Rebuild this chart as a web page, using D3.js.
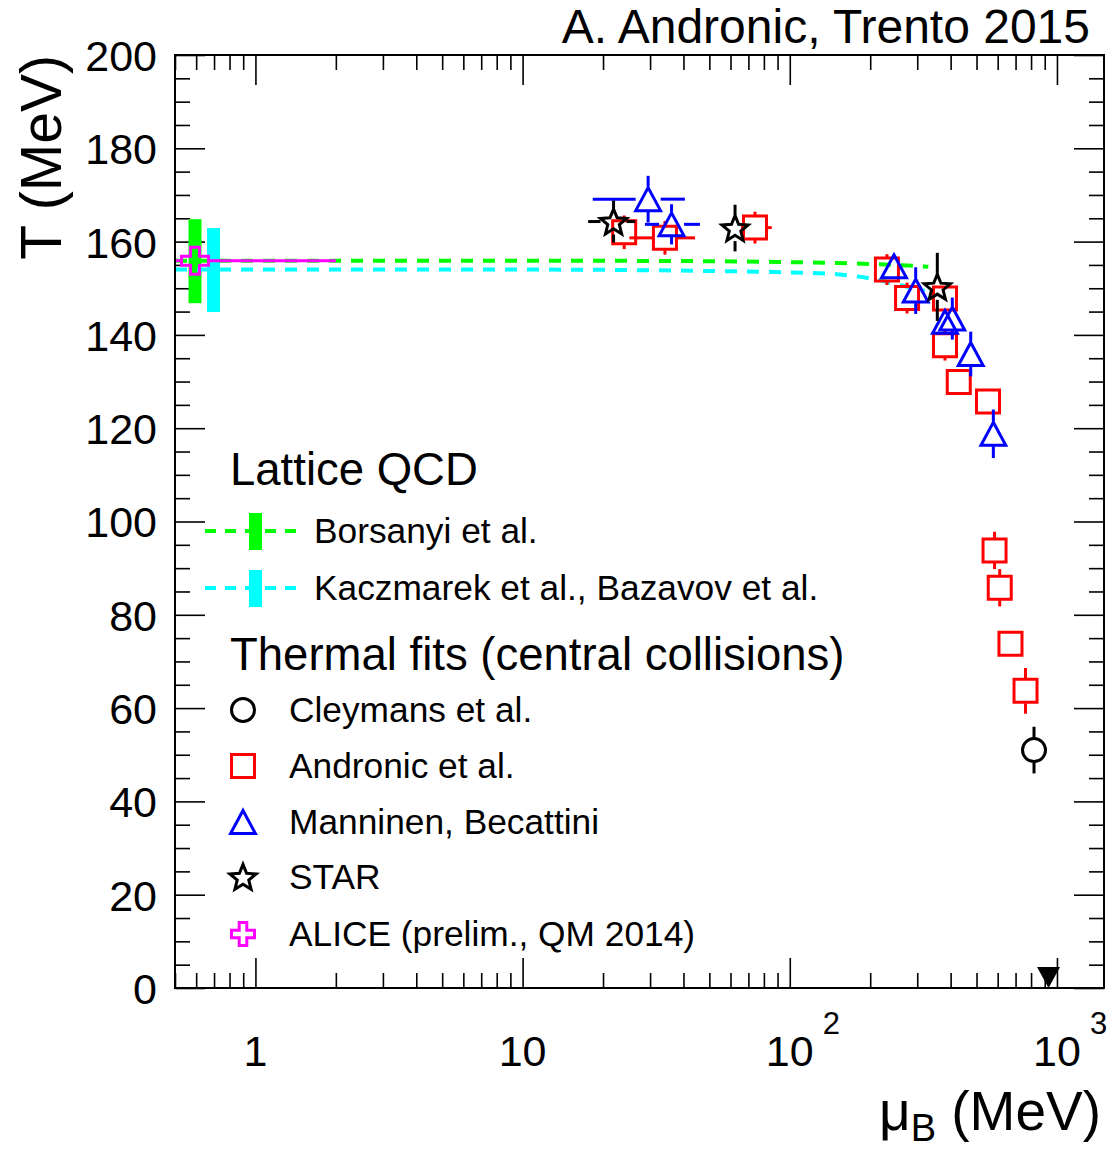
<!DOCTYPE html>
<html><head><meta charset="utf-8">
<script src="https://cdn.jsdelivr.net/npm/d3@7"></script>
<style>
body{margin:0;background:#fff}
svg{display:block}
text{font-family:"Liberation Sans",Arial,Helvetica,sans-serif;fill:#000}
</style>
</head><body>
<svg id="c" width="1111" height="1151"></svg>
<script>
// ---------------- data ----------------
const xDomain = [0.5, 1500];
const yDomain = [0, 200];
const xMajorTicks = [1, 10, 100, 1000];
const xTickBase = ["1", "10", "10", "10"];
const xTickExp = ["", "", "2", "3"];
const yMajorTicks = [0, 20, 40, 60, 80, 100, 120, 140, 160, 180, 200];
const yTickLabels = ["0", "20", "40", "60", "80", "100", "120", "140", "160", "180", "200"];

// Lattice QCD curves
const borsanyiMu = [0.5, 10, 50, 100, 150, 200, 250, 330];
const borsanyiT  = [155.9, 155.9, 155.8, 155.6, 155.4, 155.2, 155.0, 154.6];
const kaczmarekMu = [0.5, 10, 50, 100, 150, 200, 250, 320];
const kaczmarekT  = [154.0, 154.0, 153.7, 153.4, 153.0, 152.1, 150.9, 149.4];
// Lattice Tc bands (at small muB)
const bandMu = [0.594, 0.697];
const bandT = [155.8, 153.9];
const bandErr = [9, 9];

// Thermal fits
const cleymansMu = [820.6];
const cleymansT = [51.0];
const cleymansErr = [5];

const andronicMu = [24.0, 34.1, 74.1, 231, 274.8, 381, 381, 429, 552, 584, 610.7, 670, 762.7];
const andronicT  = [162.0, 160.8, 163.0, 154.0, 147.9, 147.8, 137.8, 129.9, 125.7, 93.8, 85.8, 73.8, 63.7];
const andronicErr = [3.6, 3.6, 3.4, 3.3, 3.3, 2.5, 3.3, 2, 2, 4, 4, 2.5, 4.9];
const andronicMuLo = [null, 25.1, 65.7, null, null, null, null, null, null, null, null, null, null];
const andronicMuHi = [null, 44.2, 85.6, null, null, null, null, null, null, null, null, null, null];

const manninenMu = [29.5, 36.1, 245.5, 296, 381, 405.8, 475.6, 578];
const manninenT  = [169.1, 163.7, 154.7, 149.5, 142.8, 143.5, 135.9, 118.8];
const manninenErr = [5, 4.3, 2.5, 5, 2.5, 4.5, 4.8, 5.2];
const manninenMuLo = [18.3, 28.7, null, null, null, null, null, null];
const manninenMuHi = [40.5, 46.1, null, null, null, null, null, null];

const starMu = [21.9, 62.4, 356.6];
const starT  = [164.3, 162.9, 150.3];
const starErr = [4.5, 5, 7.3];
const starMuLo = [17.6, null, null];
const starMuHi = [26.4, null, null];

const aliceMu = [0.594];
const aliceT = [155.9];
const aliceErr = [1.5];
const aliceMuLo = [0.4];
const aliceMuHi = [2.0];

const nuclearMatterMu = [930];

// ---------------- layout ----------------
const L = 175, R = 1104, T = 55, B = 988;
const svg = d3.select("#c");
const x = d3.scaleLog().domain(xDomain).range([L, R]);
const y = d3.scaleLinear().domain(yDomain).range([B, T]);

const xMinor = [];
for (let d = 0.1; d <= 1000; d *= 10) for (let k = 2; k <= 9; k++) {
  const v = +(k * d).toPrecision(3);
  if (v >= xDomain[0] && v <= xDomain[1]) xMinor.push(v);
}
const yMinor = d3.range(0, 201, 5).filter(v => v % 20 !== 0);

const MAJ = 30, MIN = 15;
function tickAxis(axisGen, tr, vals, size) {
  const g = svg.append("g").attr("transform", tr)
    .call(axisGen.tickValues(vals).tickSize(size).tickFormat(""));
  g.select(".domain").remove();
  g.selectAll("line").attr("stroke", "#000").attr("stroke-width", 1.6);
  return g;
}
// bottom & top
tickAxis(d3.axisTop(x), `translate(0,${B})`, xMajorTicks, MAJ);
tickAxis(d3.axisTop(x), `translate(0,${B})`, xMinor, MIN);
tickAxis(d3.axisBottom(x), `translate(0,${T})`, xMajorTicks, MAJ);
tickAxis(d3.axisBottom(x), `translate(0,${T})`, xMinor, MIN);
// left & right
tickAxis(d3.axisRight(y), `translate(${L},0)`, yMajorTicks, MAJ);
tickAxis(d3.axisRight(y), `translate(${L},0)`, yMinor, MIN);
tickAxis(d3.axisLeft(y), `translate(${R},0)`, yMajorTicks, MAJ);
tickAxis(d3.axisLeft(y), `translate(${R},0)`, yMinor, MIN);

// y labels
const yl = svg.append("g").attr("transform", `translate(${L},0)`)
  .call(d3.axisLeft(y).tickValues(yMajorTicks).tickSize(0).tickPadding(18)
    .tickFormat((d, i) => yTickLabels[i]));
yl.select(".domain").remove();
yl.selectAll("text").attr("font-size", 43).attr("font-family", "Liberation Sans, Arial, sans-serif")
  .attr("dy", "0.36em");

// x labels
const xl = svg.append("g");
xMajorTicks.forEach((v, i) => {
  xl.append("text").attr("x", x(v)).attr("y", 1066)
    .attr("text-anchor", "middle").attr("font-size", 43).text(xTickBase[i]);
  if (xTickExp[i]) {
    xl.append("text").attr("x", x(v) + 33).attr("y", 1034)
      .attr("font-size", 31).text(xTickExp[i]);
  }
});

// axis titles
svg.append("text").attr("transform", `translate(61,55) rotate(-90)`)
  .attr("text-anchor", "end").attr("font-size", 57).text("T (MeV)");
const xt = svg.append("text").attr("x", 1101).attr("y", 1130).attr("text-anchor", "end").attr("font-size", 55);
xt.append("tspan").text("μ");
xt.append("tspan").attr("font-size", 38).attr("dy", 11).text("B");
xt.append("tspan").attr("dy", -11).text(" (MeV)");

// title
svg.append("text").attr("x", 1090).attr("y", 43).attr("text-anchor", "end")
  .attr("font-size", 48).text("A. Andronic, Trento 2015");

// ---------------- plot content ----------------
svg.append("clipPath").attr("id", "clip").append("rect")
  .attr("x", L).attr("y", T).attr("width", R - L).attr("height", B - T);
const P = svg.append("g").attr("clip-path", "url(#clip)");

// bands
const bandColors = ["#00ff00", "#00ffff"];
const BW = 13;
bandMu.forEach((m, i) => {
  P.append("rect").attr("x", x(m) - BW / 2).attr("width", BW)
    .attr("y", y(bandT[i] + bandErr[i])).attr("height", y(bandT[i] - bandErr[i]) - y(bandT[i] + bandErr[i]))
    .attr("fill", bandColors[i]);
});

// lattice lines
const line = d3.line().x(d => x(d[0])).y(d => y(d[1])).curve(d3.curveMonotoneX);
P.append("path").datum(borsanyiMu.map((m, i) => [m, borsanyiT[i]]))
  .attr("d", line).attr("fill", "none").attr("stroke", "#00ff00").attr("stroke-width", 4)
  .attr("stroke-dasharray", "12 10");
P.append("path").datum(kaczmarekMu.map((m, i) => [m, kaczmarekT[i]]))
  .attr("d", line).attr("fill", "none").attr("stroke", "#00ffff").attr("stroke-width", 4)
  .attr("stroke-dasharray", "12 10");

// markers
function markerPath(type, s) {
  if (type === "square") return `M${-s},${-s}H${s}V${s}H${-s}Z`;
  if (type === "triangle") return `M0,${-s}L${s * 1.08},${s}L${-s * 1.08},${s}Z`;
  if (type === "star") {
    const pts = [];
    const ro = s * 1.15, ri = ro * 0.44;
    for (let k = 0; k < 10; k++) {
      const a = -Math.PI / 2 + k * Math.PI / 5;
      const r = k % 2 === 0 ? ro : ri;
      pts.push([r * Math.cos(a), r * Math.sin(a) + s * 0.1]);
    }
    return "M" + pts.map(p => p[0].toFixed(2) + "," + p[1].toFixed(2)).join("L") + "Z";
  }
  if (type === "cross") {
    const a = s * 0.33;
    return `M${-a},${-s}H${a}V${-a}H${s}V${a}H${a}V${s}H${-a}V${a}H${-s}V${-a}H${-a}Z`;
  }
}
function circlePath(r) {
  return `M${-r},0A${r},${r} 0 1,0 ${r},0A${r},${r} 0 1,0 ${-r},0Z`;
}
function drawSeries(g, mus, ts, errs, lo, hi, type, color, half) {
  mus.forEach((m, i) => {
    const cx = x(m), cy = y(ts[i]);
    const gap = half + 1;
    const yTop = y(ts[i] + errs[i]), yBot = y(ts[i] - errs[i]);
    if (cy - yTop > gap) g.append("line").attr("x1", cx).attr("x2", cx).attr("y1", cy - gap).attr("y2", yTop)
      .attr("stroke", color).attr("stroke-width", 3);
    if (yBot - cy > gap) g.append("line").attr("x1", cx).attr("x2", cx).attr("y1", cy + gap).attr("y2", yBot)
      .attr("stroke", color).attr("stroke-width", 3);
    if (lo && lo[i] != null) {
      const xl0 = x(lo[i]), xh0 = x(hi[i]);
      if (cx - xl0 > gap) g.append("line").attr("y1", cy).attr("y2", cy).attr("x1", cx - gap).attr("x2", xl0)
        .attr("stroke", color).attr("stroke-width", 3);
      if (xh0 - cx > gap) g.append("line").attr("y1", cy).attr("y2", cy).attr("x1", cx + gap).attr("x2", xh0)
        .attr("stroke", color).attr("stroke-width", 3);
    }
    g.append("path").attr("transform", `translate(${cx},${cy})`)
      .attr("d", type === "circle" ? circlePath(half) : markerPath(type, half))
      .attr("fill", "none").attr("stroke", color).attr("stroke-width", 3)
      .attr("stroke-linejoin", "miter");
  });
}
drawSeries(P, andronicMu, andronicT, andronicErr, andronicMuLo, andronicMuHi, "square", "#ff0000", 11.5);
drawSeries(P, manninenMu, manninenT, manninenErr, manninenMuLo, manninenMuHi, "triangle", "#0000ff", 11.5);
drawSeries(P, starMu, starT, starErr, starMuLo, starMuHi, "star", "#000000", 12);
drawSeries(P, cleymansMu, cleymansT, cleymansErr, null, null, "circle", "#000000", 11.5);
drawSeries(P, aliceMu, aliceT, aliceErr, aliceMuLo, aliceMuHi, "cross", "#ff00ff", 13.5);

// nuclear matter arrow on the x axis
nuclearMatterMu.forEach(m => {
  const cx = x(m);
  svg.append("path").attr("d", `M${cx - 11.5},${B - 21}L${cx + 11.5},${B - 21}L${cx},${B}Z`).attr("fill", "#000");
});

// frame
svg.append("rect").attr("x", L).attr("y", T).attr("width", R - L).attr("height", B - T)
  .attr("fill", "none").attr("stroke", "#000").attr("stroke-width", 2);

// ---------------- legend ----------------
const Lg = svg.append("g");
Lg.append("text").attr("x", 230).attr("y", 485).attr("font-size", 45.5).text("Lattice QCD");
const latLeg = [
  {label: "Borsanyi et al.", color: "#00ff00", y: 531},
  {label: "Kaczmarek et al., Bazavov et al.", color: "#00ffff", y: 588}
];
latLeg.forEach(d => {
  Lg.append("line").attr("x1", 205).attr("x2", 301).attr("y1", d.y).attr("y2", d.y)
    .attr("stroke", d.color).attr("stroke-width", 4).attr("stroke-dasharray", "11 9");
  Lg.append("rect").attr("x", 249).attr("width", 13).attr("y", d.y - 18).attr("height", 37).attr("fill", d.color);
  Lg.append("text").attr("x", 314).attr("y", d.y + 12).attr("font-size", 35.3).text(d.label);
});
Lg.append("text").attr("x", 230).attr("y", 670).attr("font-size", 45.5).text("Thermal fits (central collisions)");
const thLeg = [
  {label: "Cleymans et al.", type: "circle", color: "#000", y: 710, h: 11.5},
  {label: "Andronic et al.", type: "square", color: "#ff0000", y: 766, h: 11.5},
  {label: "Manninen, Becattini", type: "triangle", color: "#0000ff", y: 822, h: 11.5},
  {label: "STAR", type: "star", color: "#000", y: 877, h: 12},
  {label: "ALICE (prelim., QM 2014)", type: "cross", color: "#ff00ff", y: 934, h: 11.5}
];
thLeg.forEach(d => {
  Lg.append("path").attr("transform", `translate(243,${d.y})`)
    .attr("d", d.type === "circle" ? circlePath(d.h) : markerPath(d.type, d.h))
    .attr("fill", "none").attr("stroke", d.color).attr("stroke-width", 3);
  Lg.append("text").attr("x", 289).attr("y", d.y + 12).attr("font-size", 35.3).text(d.label);
});
</script>
</body></html>
